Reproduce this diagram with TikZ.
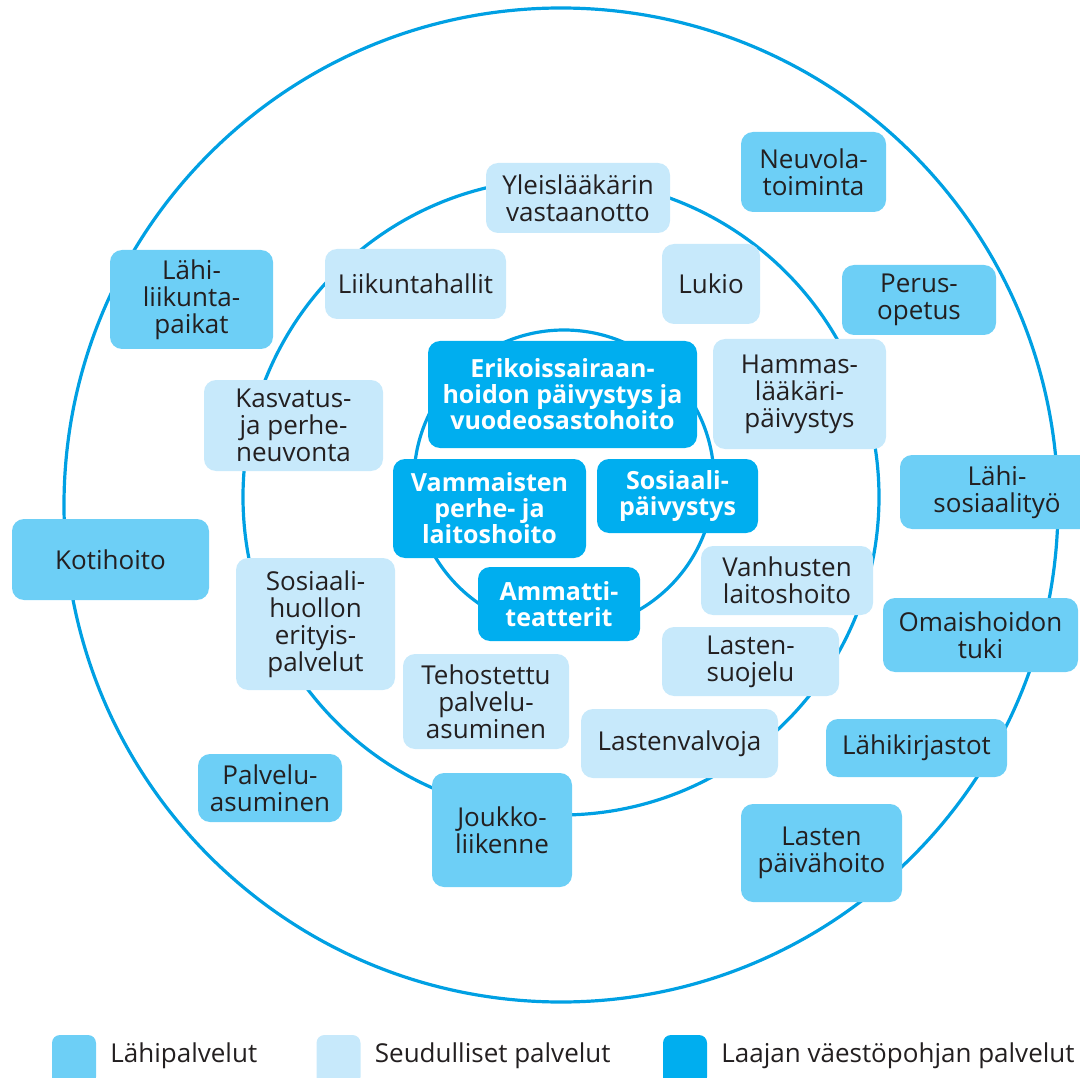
\documentclass[tikz,border=0pt]{standalone}
\usepackage{fontspec}
\setmainfont{Open Sans}
\usetikzlibrary{positioning}
\definecolor{ring}{RGB}{0,160,227}
\definecolor{lahi}{RGB}{109,207,246}
\definecolor{seutu}{RGB}{199,233,251}
\definecolor{laaja}{RGB}{0,174,239}
\definecolor{ink}{RGB}{35,31,32}

\begin{document}
\begin{tikzpicture}[x=1pt,y=-1pt,
    wh/.style 2 args={minimum width=#1pt,minimum height=#2pt},
    box/.style={rounded corners=12pt,inner sep=0pt,align=center,text=ink,
      font=\fontsize{26}{27}\selectfont},
    lahibox/.style={box,fill=lahi},
    seutubox/.style={box,fill=seutu},
    laajabox/.style={box,fill=laaja,text=white,font=\fontsize{25}{26}\selectfont\bfseries},
    key/.style={rounded corners=8pt,wh={44}{50},inner sep=0pt},
    keytext/.style={inner sep=0pt,text=ink,yshift=4pt,font=\fontsize{26}{27}\selectfont}]
  \useasboundingbox (0,0) rectangle (1080,1078);
  % rings
  \draw[ring,line width=3.2pt] (561,505) circle[radius=497];
  \draw[ring,line width=3.2pt] (561,497) circle[radius=318];
  \draw[ring,line width=3.2pt] (564,480) circle[radius=150];
  % lahipalvelut
  \node[lahibox,wh={145}{80}](neuvola) at (813.5,172){Neuvola-\\toiminta};
  \node[lahibox,wh={163}{99}](lahiliikunta) at (191.5,299.5){Lähi-\\liikunta-\\paikat};
  \node[lahibox,wh={154}{70}](perusopetus) at (919,300){Perus-\\opetus};
  \node[lahibox,wh={194}{74}](lahisosiaali) at (997,492){Lähi-\\sosiaalityö};
  \node[lahibox,wh={197}{81}](kotihoito) at (110.5,559.5){Kotihoito};
  \node[lahibox,wh={195}{74}](omaishoito) at (980.5,635){Omaishoidon\\tuki};
  \node[lahibox,wh={181}{58}](kirjastot) at (916.5,748){Lähikirjastot};
  \node[lahibox,wh={161}{98}](paivahoito) at (821.5,853){Lasten\\päivähoito};
  \node[lahibox,wh={140}{114}](joukkoliikenne) at (502,830){Joukko-\\liikenne};
  \node[lahibox,wh={144}{68}](palveluasuminen) at (270,788){Palvelu-\\asuminen};
  % seudulliset palvelut
  \node[seutubox,wh={184}{70}](yleislaakari) at (578,198){Yleislääkärin\\vastaanotto};
  \node[seutubox,wh={181}{70}](liikuntahallit) at (415.5,284){Liikuntahallit};
  \node[seutubox,wh={98}{80}](lukio) at (711,284){Lukio};
  \node[seutubox,wh={173}{110}](hammas) at (799.5,394){Hammas-\\lääkäri-\\päivystys};
  \node[seutubox,wh={179}{91}](kasvatus) at (293.5,425.5){Kasvatus-\\ja perhe-\\neuvonta};
  \node[seutubox,wh={159}{132}](erityis) at (315.5,624){Sosiaali-\\huollon\\erityis-\\palvelut};
  \node[seutubox,wh={172}{69}](vanhusten) at (787,580.5){Vanhusten\\laitoshoito};
  \node[seutubox,wh={177}{69}](suojelu) at (750.5,661.5){Lasten-\\suojelu};
  \node[seutubox,wh={166}{95}](tehostettu) at (486,701.5){Tehostettu\\palvelu-\\asuminen};
  \node[seutubox,wh={197}{69}](valvoja) at (679.5,743.5){Lastenvalvoja};
  % laajan vaestopohjan palvelut
  \node[laajabox,wh={269}{107}](erikois) at (562.5,394.5){Erikoissairaan-\\hoidon päivystys ja\\vuodeosastohoito};
  \node[laajabox,wh={193}{99}](vammaisten) at (489.5,508.5){Vammaisten\\perhe- ja\\laitoshoito};
  \node[laajabox,wh={161}{74}](sospaivystys) at (677.5,496){Sosiaali-\\päivystys};
  \node[laajabox,wh={162}{74}](ammatti) at (559,604){Ammatti-\\teatterit};
  % legend
  \node[key,fill=lahi](k_lahi) at (74,1060){};
  \node[keytext,right=14pt of k_lahi](t_lahi){Lähipalvelut};
  \node[key,fill=seutu](k_seutu) at (338.5,1060){};
  \node[keytext,right=14pt of k_seutu](t_seutu){Seudulliset palvelut};
  \node[key,fill=laaja](k_laaja) at (685,1060){};
  \node[keytext,right=14pt of k_laaja](t_laaja){Laajan väestöpohjan palvelut};
\end{tikzpicture}
\end{document}
